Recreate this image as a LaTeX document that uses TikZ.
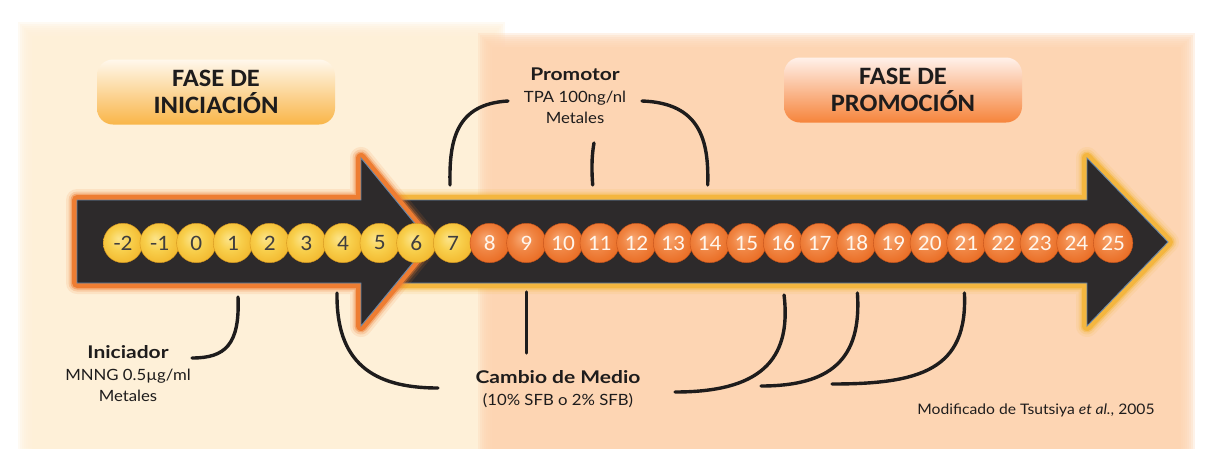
\documentclass[tikz,border=0pt]{standalone}
\usepackage{fontspec}
\setmainfont{Lato}
\newfontfamily\numfont[FakeStretch=1.06]{Carlito}
\newfontfamily\labfont[FakeStretch=1.08]{Lato}
\newfontfamily\labbold[FakeStretch=1.2]{Lato}
\usetikzlibrary{calc}

\definecolor{paneL}{HTML}{FEF0D8}
\definecolor{paneR}{HTML}{FDD5B3}
\definecolor{arrowdark}{HTML}{2D2A2B}
\definecolor{edgeblue}{HTML}{6A88A8}
\definecolor{glowO}{HTML}{EE7D32}
\definecolor{glowY}{HTML}{F4B63F}
\definecolor{inkc}{HTML}{1E1C1C}
\definecolor{yA}{HTML}{FCE48A}
\definecolor{yB}{HTML}{F8CF4C}
\definecolor{yC}{HTML}{F3BB32}
\definecolor{yD}{HTML}{EAA82A}
\definecolor{yE}{HTML}{D4951F}
\definecolor{oA}{HTML}{F8A873}
\definecolor{oB}{HTML}{F08543}
\definecolor{oC}{HTML}{EA6F27}
\definecolor{oD}{HTML}{E0621E}
\definecolor{oE}{HTML}{C5521A}
\definecolor{boxYtop}{HTML}{FFF8EC}
\definecolor{boxYbot}{HTML}{F9B548}
\definecolor{boxOtop}{HTML}{FFF1EA}
\definecolor{boxObot}{HTML}{F6843B}

\pgfdeclareradialshading{coinyellow}{\pgfpoint{-6bp}{6bp}}{%
  color(0bp)=(yA); color(14bp)=(yB); color(27bp)=(yC); color(40bp)=(yD); color(50bp)=(yE)}
\pgfdeclareradialshading{coinorange}{\pgfpoint{-6bp}{6bp}}{%
  color(0bp)=(oA); color(14bp)=(oB); color(27bp)=(oC); color(40bp)=(oD); color(50bp)=(oE)}

% outlines of the two timeline arrows
\def\arrowA{(77,200) -- (361,200) -- (361,158) -- (430,242) -- (361,326) -- (361,283) -- (77,283) -- cycle}
\def\arrowB{(372,200) -- (1087,200) -- (1087,158) -- (1168,242) -- (1087,326) -- (1087,283) -- (372,283) -- cycle}

% a panel with a soft edge
\newcommand\softpanel[5]{%
  \foreach \k in {0,...,7}{\fill[#1,opacity=0.3] ({#2+2*\k},{#3+2*\k}) rectangle ({#4-2*\k},{#5});}
  \fill[#1] ({#2+14},{#3+14}) rectangle ({#4-14},{#5});}

% a dark arrow with a glowing rim
\newcommand\glowarrow[2]{%
  \foreach \w/\o in {22/0.12,17/0.22,13/0.45}{\draw[#2,line width=\w,opacity=\o,line join=round] #1;}
  \draw[#2,line width=10,line join=round] #1;
  \fill[arrowdark] #1;
  \draw[edgeblue,line width=0.9,line join=miter] #1;}

\newcommand\boldline[1]{{\labbold\bfseries\fontsize{17.5}{21.5}\selectfont #1}}

\tikzset{
  coin/.style={circle,minimum size=39.5pt,inner sep=0pt,draw=#1,line width=0.4pt,
    font=\numfont\fontsize{22}{22}\selectfont},
  ycoin/.style={coin=yE,shading=coinyellow,text=inkc!85!white},
  ocoin/.style={coin=oE,shading=coinorange,text=white!92!orange},
  phasebox/.style={rounded corners=16pt,minimum width=238pt,minimum height=65pt,
    align=center,text=inkc,font=\numfont\bfseries\fontsize{25}{27}\selectfont},
  lab/.style={align=center,text=inkc,font=\labfont\fontsize{15.5}{21.5}\selectfont},
  conn/.style={draw=inkc,line width=3.4pt,line cap=round}
}

\begin{document}
\begin{tikzpicture}[x=1pt,y=-1pt]
\useasboundingbox (0,0) rectangle (1208,448);
\fill[white] (0,0) rectangle (1208,448);

% background panels of the two phases
\softpanel{paneL}{18}{22}{505}{470}
\softpanel{paneR}{478}{33}{1195}{470}

% phase headings
\node[phasebox,top color=boxYtop,bottom color=boxYbot] (ini) at (216,92) {FASE DE\\INICIACIÓN};
\node[phasebox,top color=boxOtop,bottom color=boxObot] (pro) at (903,90) {FASE DE\\PROMOCIÓN};

% timeline arrows
\glowarrow{\arrowB}{glowY}
\glowarrow{\arrowA}{glowO}

% days of culture
\foreach \i in {-2,...,25}{
  \pgfmathsetmacro\cx{123+(\i+2)*36.67}
  \ifnum\i<8
    \node[ycoin] (c\i) at (\cx,243) {\i};
  \else
    \node[ocoin] (c\i) at (\cx,243) {\i};
  \fi
}

% labels
\node[lab] (prom) at (575,96) {\boldline{Promotor}\\TPA 100ng/nl\\Metales};
\node[lab] (inic) at (128,374) {\boldline{Iniciador}\\MNNG 0.5µg/ml\\Metales};
\node[lab] (camb) at (558,389) {\boldline{Cambio de Medio}\\(10\% SFB o 2\% SFB)};
\node[text=inkc,font=\labfont\fontsize{14.5}{16}\selectfont] (ref) at (1036,410)
  {Modificado de Tsutsiya \textit{et al.}, 2005};

% label ends of the connectors
\coordinate (pL) at (508,101);
\coordinate (pR) at (642,101);
\coordinate (pM) at (594,143);
\coordinate (iE) at (192,358);
\coordinate (mA) at (438,388);
\coordinate (mB) at ($(c9)+(0,110)$);
\coordinate (mC) at (675,392);
\coordinate (mD) at (761,386);
\coordinate (mE) at (832,384);

% promoter treatment
\draw[conn] (pL) .. controls (456,104) and (449,140) .. ($(c7)+(-3,-58)$);
\draw[conn] (pM) .. controls (591,160) and (592,175) .. ($(c11)+(-7,-58)$);
\draw[conn] (pR) .. controls (700,103) and (709,140) .. ($(c14)+(-2,-58)$);

% initiator treatment
\draw[conn] ($(c1)+(5,54)$) .. controls (240,345) and (225,358) .. (iE);

% medium changes
\draw[conn] ($(c4)+(-6,50)$) .. controls (336,362) and (372,388) .. (mA);
\draw[conn] ($(c9)+(0,49)$) -- (mB);
\draw[conn] ($(c16)+(1,52)$) .. controls (792,362) and (758,392) .. (mC);
\draw[conn] ($(c18)+(1,50)$) .. controls (862,360) and (830,386) .. (mD);
\draw[conn] ($(c21)+(-2,50)$) .. controls (968,370) and (920,384) .. (mE);
\end{tikzpicture}
\end{document}
